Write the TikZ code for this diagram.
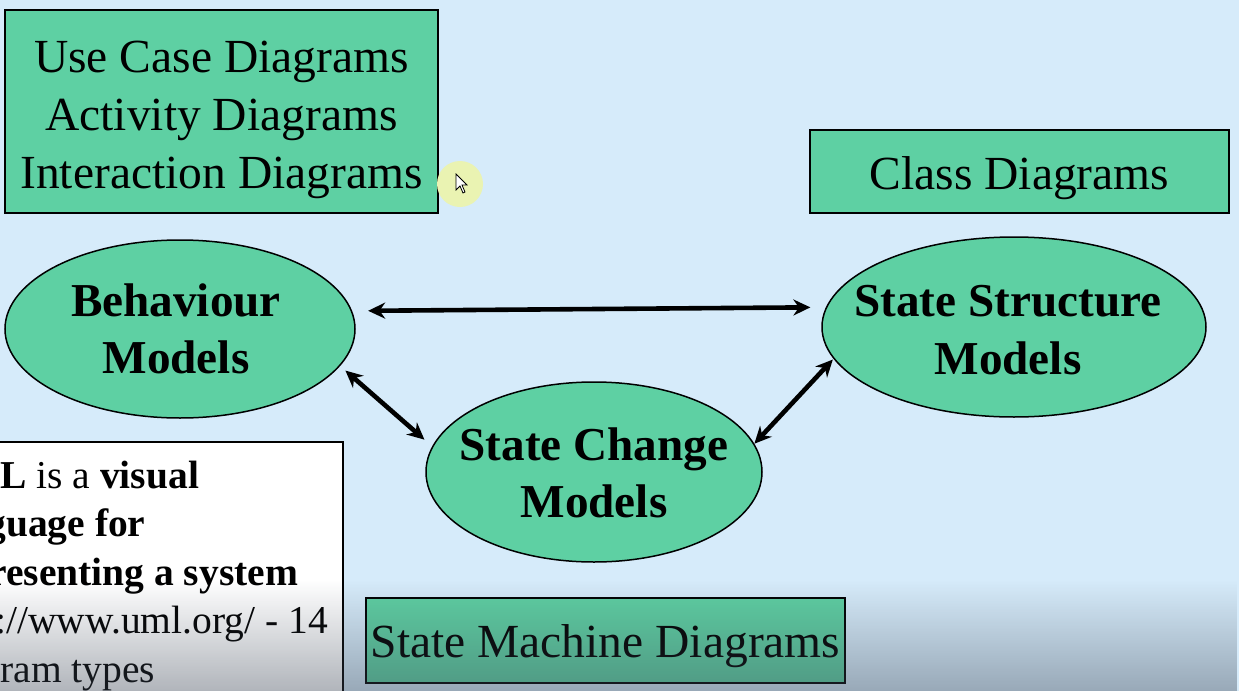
\documentclass[tikz,border=0pt]{standalone}
\usepackage{fontspec}
\setmainfont{Liberation Serif}
\usetikzlibrary{arrows.meta,shapes.geometric,fadings}
\definecolor{bgblue}{RGB}{214,235,250}
\definecolor{mint}{RGB}{94,208,163}
\definecolor{shadecol}{RGB}{60,70,85}
\definecolor{hilite}{RGB}{234,243,178}
\tikzfading[name=upfade, top color=transparent!100, bottom color=transparent!0]
\begin{document}
\begin{tikzpicture}[x=0.5pt,y=-0.5pt,
  greenbox/.style={draw=black, line width=1pt, fill=mint, inner sep=0pt},
  model/.style={ellipse, draw=black, line width=0.75pt, fill=mint, inner sep=0pt},
  boxtext/.style={inner sep=0pt, font=\fontsize{23.75pt}{29pt}\selectfont, align=center},
  modeltext/.style={inner sep=0pt, font=\bfseries\fontsize{23.6pt}{28.75pt}\selectfont, align=center},
  link/.style={line width=2.3pt, {Stealth[length=8.5pt,width=8pt]}-{Stealth[length=8.5pt,width=8pt]}}]
\useasboundingbox (0,0) rectangle (1239,691);
\clip (0,0) rectangle (1239,691);
\fill[bgblue] (0,0) rectangle (1239,691);

% boxes
\node[greenbox, minimum width=216.5pt, minimum height=101.5pt] (uc) at (221.5,111.5) {};
\node[boxtext] (uctext) at (221.5,120) {Use Case Diagrams\\Activity Diagrams\\Interaction Diagrams};
\node[greenbox, minimum width=209.5pt, minimum height=41.5pt] (cd) at (1019.5,171.5) {};
\node[boxtext, anchor=base] (cdtext) at (1019.5,189) {Class Diagrams};

% models
\node[model, minimum width=175pt, minimum height=89pt] (beh) at (180,329) {};
\node[modeltext] (behtext) at (176,329) {Behaviour\\Models};
\node[model, minimum width=192pt, minimum height=90pt] (ss) at (1014,327) {};
\node[modeltext] (sstext) at (1008,330) {State Structure\\Models};
\node[model, minimum width=168pt, minimum height=90pt] (sc) at (594,472) {};
\node[modeltext] (sctext) at (594,473) {State Change\\Models};

% connectors
\draw[link, shorten <=8pt, shorten >=7.75pt] (beh.6.3) -- (ss.174.85);
\draw[link, shorten <=3.5pt, shorten >=5.1pt] (beh.-13.7) -- (sc.171);
\draw[link, shorten >=0.5pt] (sc.10.75) -- (ss.190);

% white note box
\node[draw=black, line width=1pt, fill=white, inner sep=0pt, minimum width=181.5pt, minimum height=139pt] (note) at (161.5,581) {};
\node[inner sep=0pt, anchor=west, align=left, font=\fontsize{19.75pt}{24.25pt}\selectfont] (notetext) at (0,576)
  {\textbf{L} is a \textbf{visual}\\\hspace*{-7pt}\textbf{guage for}\\\hspace*{-5.5pt}\textbf{resenting a system}\\\hspace*{-2.5pt}://www.uml.org/ - 14\\ram types};

% state machine box
\node[greenbox, minimum width=239.5pt, minimum height=42.5pt] (sm) at (605.5,640.5) {};
\node[boxtext, anchor=base] (smtext) at (605.5,657) {State Machine Diagrams};

% cursor highlight
\fill[hilite] (460,184) circle[radius=11.5pt];
\draw[black, line width=0.4pt, fill=white] (456,174) -- (456,190) -- (460,186) -- (463,193) -- (465,192) -- (462,185) -- (467,185) -- cycle;

% bottom shadow
\fill[shadecol, opacity=0.4, path fading=upfade] (0,580) rectangle (1239,691);
\end{tikzpicture}
\end{document}
